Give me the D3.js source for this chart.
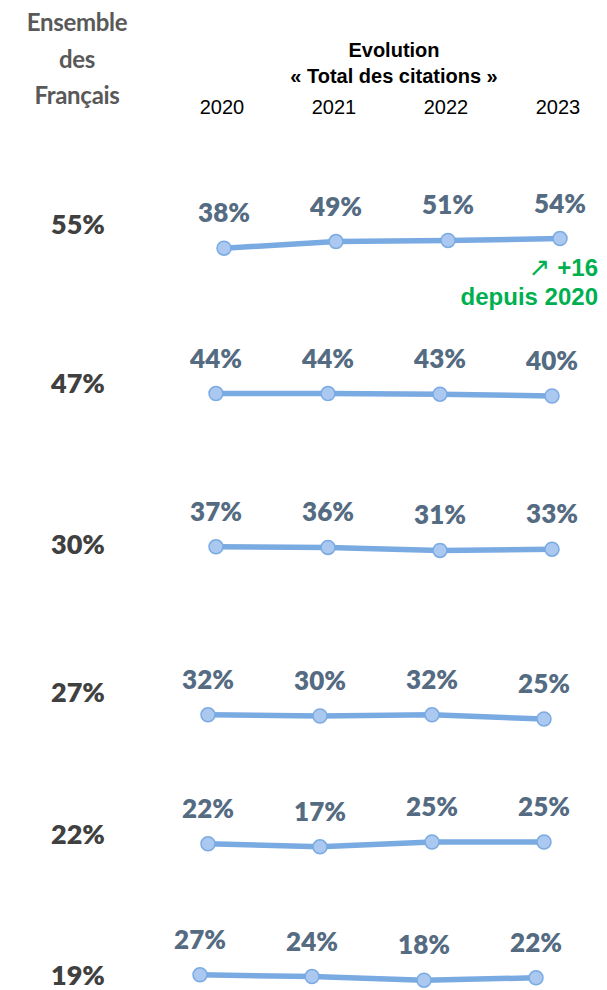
<!DOCTYPE html>
<html>
<head>
<meta charset="utf-8">
<script src="https://cdn.jsdelivr.net/npm/d3@7"></script>
<style>
  body { margin: 0; background: #fff; }
</style>
</head>
<body>
<div class="chart"></div>
<script>
// data
const years = ["2020", "2021", "2022", "2023"];
const totals = [55, 47, 30, 27, 22, 19];
const series = [
   [38, 49, 51, 54],
   [44, 44, 43, 40],
   [37, 36, 31, 33],
   [32, 30, 32, 25],
   [22, 17, 25, 25],
   [27, 24, 18, 22]
];
const headerLeft = ["Ensemble", "des", "Français"];
const headerTitle = ["Evolution", "« Total des citations »"];
const noteArrow = "↗";
const note = ["+16", "depuis 2020"];

// setup chart
const width = 607;
const height = 990;
const svg = d3.select(".chart").append("svg").attr("width", width).attr("height", height);

// layout
const rowBase = [271, 420, 569, 734, 857, 991];
const rowShift = [8, 0, 0, -8, -8, -16];
const leftY = [225, 384, 545, 693, 835, 976];
const x = d3.scalePoint().domain(years).range([216, 552]);
const dy = d3.scaleLinear().domain([0, 100]).range([0, 60]);

const lineColor = "#7aaae2";
const dotFill = "#aac8f0";
const labelColor = "#546b82";
const green = "#00b050";

// header
svg.append("g")
   .selectAll("text")
   .data(headerLeft)
   .join("text")
   .attr("x", 77)
   .attr("y", (d, i) => 31 + i * 36.5)
   .attr("text-anchor", "middle")
   .style("font-family", "Lato, sans-serif")
   .style("font-weight", 700)
   .style("font-size", "24px")
   .style("letter-spacing", "-0.3px")
   .attr("fill", "#595959")
   .text((d) => d);

svg.append("g")
   .selectAll("text")
   .data(headerTitle)
   .join("text")
   .attr("x", 394)
   .attr("y", (d, i) => 57 + i * 26)
   .attr("text-anchor", "middle")
   .style("font-family", "'Liberation Sans', Arial, sans-serif")
   .style("font-weight", 700)
   .style("font-size", "20px")
   .attr("fill", "#000")
   .text((d) => d);

svg.append("g")
   .selectAll("text")
   .data(years)
   .join("text")
   .attr("x", (d) => x(d) + 6)
   .attr("y", 114)
   .attr("text-anchor", "middle")
   .style("font-family", "'Liberation Sans', Arial, sans-serif")
   .style("font-size", "20px")
   .attr("fill", "#000")
   .text((d) => d);

// rows
const line = d3.line();
series.forEach((vals, r) => {
   const g = svg.append("g");
   const pts = vals.map((v, i) => [x(years[i]) + rowShift[r], rowBase[r] - dy(v)]);

   g.append("path")
      .attr("d", line(pts))
      .attr("fill", "none")
      .attr("stroke", lineColor)
      .attr("stroke-width", 5.5)
      .attr("stroke-linejoin", "round");

   g.selectAll("circle")
      .data(pts)
      .join("circle")
      .attr("cx", (d) => d[0])
      .attr("cy", (d) => d[1])
      .attr("r", 7)
      .attr("fill", dotFill)
      .attr("stroke", lineColor)
      .attr("stroke-width", 1.5);

   g.selectAll("text.val")
      .data(vals)
      .join("text")
      .attr("class", "val")
      .attr("x", (d, i) => pts[i][0])
      .attr("y", (d, i) => pts[i][1] - 26)
      .attr("text-anchor", "middle")
      .style("font-family", "Lato, sans-serif")
      .style("font-weight", 800)
      .style("font-size", "26px")
      .attr("fill", labelColor)
      .text((d) => `${d}%`);

   g.append("text")
      .attr("x", 78)
      .attr("y", leftY[r] + 9)
      .attr("text-anchor", "middle")
      .style("font-family", "Lato, sans-serif")
      .style("font-weight", 800)
      .style("font-size", "27px")
      .attr("fill", "#404040")
      .text(`${totals[r]}%`);
});

// evolution note
const noteG = svg.append("g")
   .attr("text-anchor", "end")
   .style("font-family", "'Liberation Sans', Arial, sans-serif")
   .style("font-weight", 700)
   .style("font-size", "24px")
   .attr("fill", green);

const first = noteG.append("text").attr("x", 598).attr("y", 276);
first.append("tspan")
   .style("font-weight", 400)
   .style("font-family", "'DejaVu Sans', sans-serif")
   .style("font-size", "26px")
   .text(noteArrow);
first.append("tspan").attr("dx", 7).text(note[0]);

noteG.append("text").attr("x", 598).attr("y", 305).text(note[1]);
</script>
</body>
</html>
